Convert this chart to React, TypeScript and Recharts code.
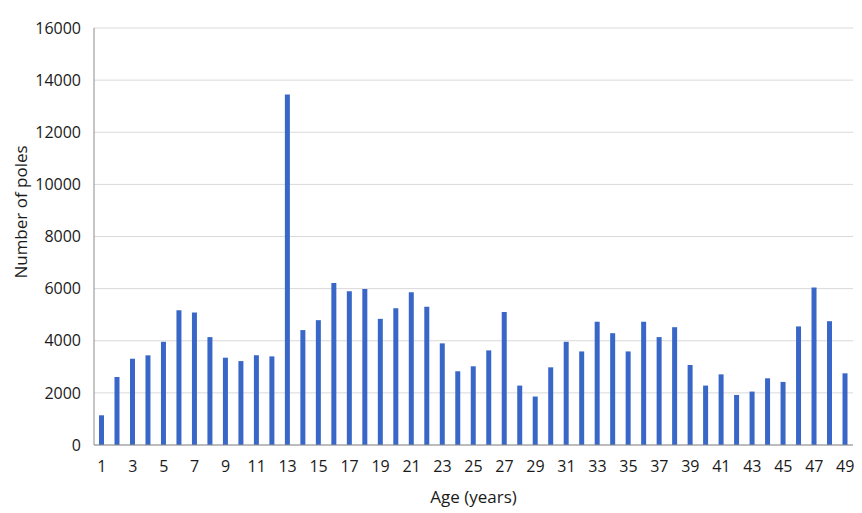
import { Bar, BarChart, CartesianGrid, XAxis, YAxis } from 'recharts';

const ages = [
  1, 2, 3, 4, 5, 6, 7, 8, 9, 10, 11, 12, 13, 14, 15, 16, 17, 18, 19, 20, 21, 22, 23, 24, 25,
  26, 27, 28, 29, 30, 31, 32, 33, 34, 35, 36, 37, 38, 39, 40, 41, 42, 43, 44, 45, 46, 47, 48, 49,
];

const poles = [
  1140, 2610, 3310, 3440, 3960, 5170, 5080, 4140, 3350, 3220, 3440, 3400, 13450, 4410, 4790,
  6220, 5900, 5990, 4840, 5250, 5860, 5300, 3900, 2830, 3020, 3630, 5100, 2280, 1860, 2980,
  3960, 3590, 4730, 4290, 3590, 4730, 4140, 4520, 3070, 2280, 2710, 1920, 2050, 2560, 2420,
  4550, 6040, 4750, 2750,
];

const yTicks = [0, 2000, 4000, 6000, 8000, 10000, 12000, 14000, 16000];

const data = ages.map((age, i) => ({ age, poles: poles[i] }));

const font = '"Open Sans", sans-serif';
const tickStyle = { fill: '#1a1a1a', fontSize: 16, fontFamily: font };
const titleStyle = { fill: '#1a1a1a', fontSize: 17, fontFamily: font };
const borderColor = '#8c8c8c';

const App = () => (
  <div style={{ position: 'absolute', left: 0, top: 0 }}>
    <style>{'body{margin:0}'}</style>
    <BarChart
      width={862}
      height={513}
      data={data}
      margin={{ top: 28, right: 9, bottom: 0, left: 0 }}
      barSize={5}
    >
      <CartesianGrid horizontal vertical={false} stroke="#d9d9d9" />
      <XAxis
        dataKey="age"
        interval={1}
        height={68}
        tickLine={false}
        tickSize={0}
        tickMargin={16}
        tick={tickStyle}
        axisLine={{ stroke: borderColor }}
        label={{
          value: 'Age (years)',
          position: 'insideBottom',
          offset: 10,
          style: titleStyle,
        }}
      />
      <XAxis
        xAxisId="top"
        dataKey="age"
        orientation="top"
        height={0}
        tick={false}
        tickLine={false}
        axisLine={{ stroke: borderColor }}
      />
      <YAxis
        domain={[0, 16000]}
        ticks={yTicks}
        width={94}
        tickLine={false}
        tickSize={0}
        tickMargin={13}
        tick={tickStyle}
        axisLine={{ stroke: borderColor }}
        label={{
          content: () => (
            <text
              x={26.5}
              y={212}
              transform="rotate(-90 26.5 212)"
              textAnchor="middle"
              {...titleStyle}
            >
              Number of poles
            </text>
          ),
        }}
      />
      <YAxis
        yAxisId="right"
        orientation="right"
        domain={[0, 16000]}
        width={0}
        tick={false}
        tickLine={false}
        axisLine={{ stroke: borderColor }}
      />
      <Bar dataKey="poles" fill="#3867c8" isAnimationActive={false} />
    </BarChart>
  </div>
);

export default App;
